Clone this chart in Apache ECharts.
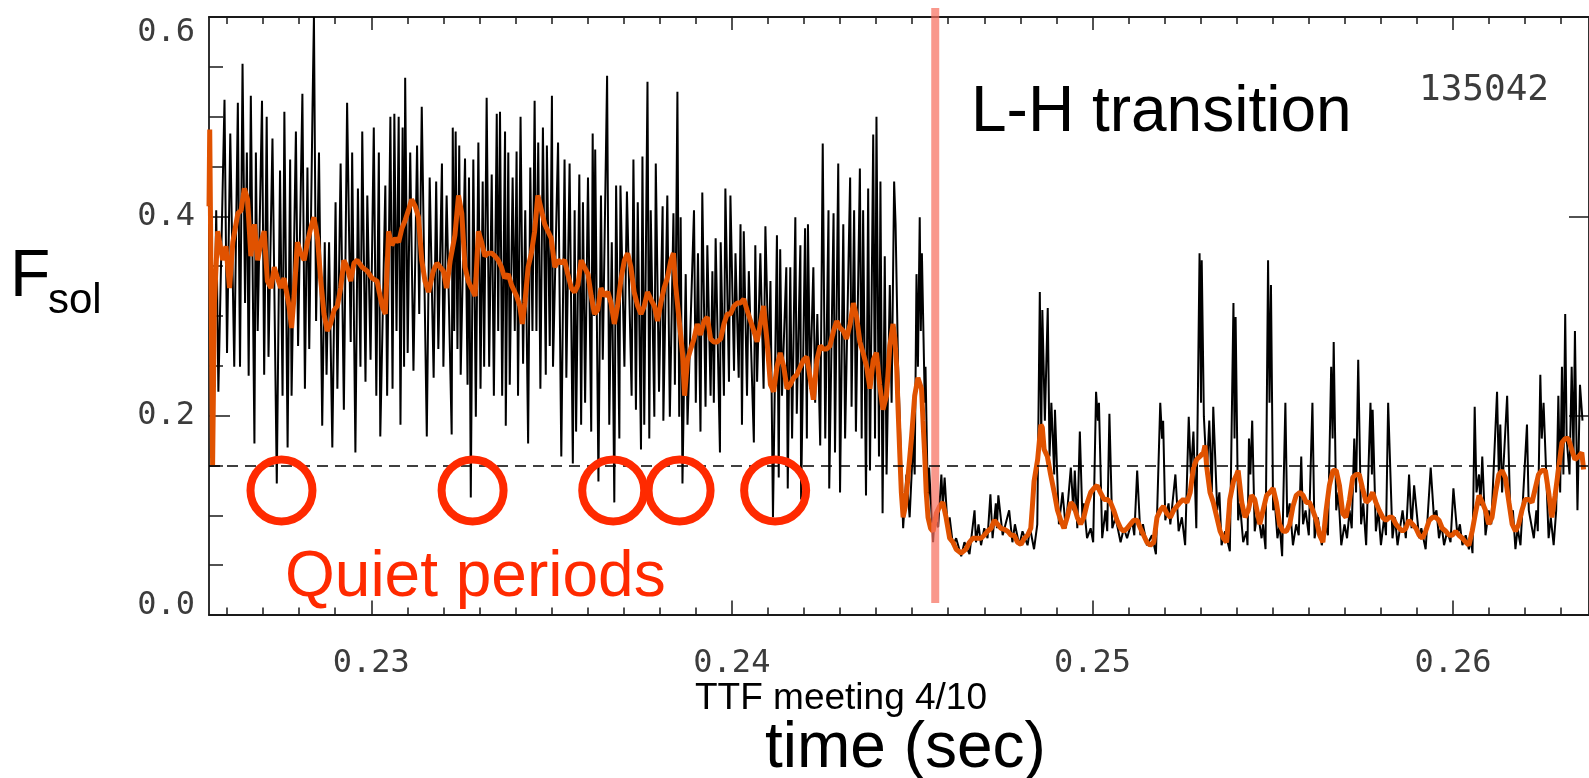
<!DOCTYPE html>
<html><head><meta charset="utf-8">
<script src="https://cdn.jsdelivr.net/npm/echarts@6/dist/echarts.min.js"></script>
<style>html,body{margin:0;padding:0;background:#fff}#c{width:1589px;height:778px}</style>
</head><body><div id="c"></div>
<script>
// ---------- data (time in s, F_sol) ----------
const blackTrace = [
[0.22551,0.392],[0.22561,0.159],[0.22570,0.406],[0.22576,0.224],[0.22593,0.517],[0.22600,0.263],[0.22609,0.483],[0.22620,0.249],[0.22630,0.514],[0.22636,0.249],[0.22643,0.553],[0.22650,0.313],[0.22655,0.464],[0.22660,0.240],[0.22666,0.521],[0.22676,0.172],[0.22680,0.464],[0.22685,0.285],[0.22697,0.516],[0.22703,0.241],[0.22710,0.500],[0.22715,0.259],[0.22726,0.478],[0.22738,0.132],[0.22747,0.446],[0.22754,0.220],[0.22759,0.505],[0.22768,0.168],[0.22775,0.457],[0.22779,0.220],[0.22791,0.485],[0.22797,0.270],[0.22809,0.523],[0.22816,0.227],[0.22823,0.449],[0.22828,0.267],[0.22837,0.507],[0.22841,0.600],[0.22847,0.295],[0.22855,0.464],[0.22864,0.190],[0.22871,0.374],[0.22876,0.241],[0.22883,0.374],[0.22892,0.168],[0.22901,0.414],[0.22906,0.227],[0.22915,0.453],[0.22924,0.206],[0.22933,0.514],[0.22943,0.274],[0.22947,0.464],[0.22956,0.163],[0.22963,0.428],[0.22970,0.249],[0.22975,0.485],[0.22984,0.234],[0.22989,0.421],[0.22998,0.256],[0.23007,0.489],[0.23014,0.220],[0.23021,0.464],[0.23025,0.179],[0.23039,0.431],[0.23044,0.220],[0.23053,0.500],[0.23059,0.227],[0.23064,0.503],[0.23070,0.285],[0.23076,0.500],[0.23081,0.191],[0.23087,0.489],[0.23091,0.249],[0.23094,0.539],[0.23101,0.263],[0.23108,0.464],[0.23117,0.245],[0.23127,0.471],[0.23133,0.302],[0.23140,0.510],[0.23154,0.179],[0.23162,0.439],[0.23173,0.238],[0.23180,0.435],[0.23186,0.267],[0.23196,0.453],[0.23200,0.249],[0.23209,0.421],[0.23223,0.181],[0.23226,0.489],[0.23230,0.285],[0.23234,0.485],[0.23239,0.267],[0.23244,0.471],[0.23248,0.241],[0.23260,0.458],[0.23267,0.231],[0.23271,0.439],[0.23276,0.118],[0.23283,0.457],[0.23290,0.199],[0.23297,0.474],[0.23303,0.227],[0.23309,0.435],[0.23313,0.249],[0.23320,0.519],[0.23327,0.249],[0.23334,0.442],[0.23340,0.220],[0.23348,0.503],[0.23352,0.285],[0.23357,0.505],[0.23363,0.220],[0.23371,0.485],[0.23373,0.190],[0.23380,0.464],[0.23384,0.231],[0.23392,0.439],[0.23398,0.285],[0.23403,0.465],[0.23407,0.220],[0.23414,0.500],[0.23421,0.252],[0.23427,0.406],[0.23435,0.172],[0.23441,0.449],[0.23447,0.285],[0.23453,0.516],[0.23458,0.285],[0.23463,0.474],[0.23469,0.227],[0.23476,0.489],[0.23484,0.241],[0.23487,0.471],[0.23495,0.270],[0.23501,0.521],
[0.23504,0.249],[0.23518,0.474],[0.23527,0.159],[0.23536,0.457],[0.23541,0.238],[0.23550,0.453],[0.23559,0.152],[0.23564,0.406],[0.23568,0.184],[0.23577,0.442],[0.23582,0.191],[0.23587,0.414],[0.23593,0.213],[0.23601,0.439],[0.23610,0.184],[0.23614,0.483],[0.23618,0.300],[0.23621,0.467],[0.23630,0.134],[0.23637,0.421],[0.23642,0.256],[0.23654,0.541],[0.23660,0.191],[0.23667,0.374],[0.23674,0.113],[0.23679,0.431],[0.23688,0.177],[0.23691,0.431],[0.23702,0.249],[0.23709,0.425],[0.23722,0.220],[0.23727,0.457],[0.23734,0.206],[0.23739,0.414],[0.23748,0.166],[0.23752,0.460],[0.23757,0.191],[0.23766,0.535],[0.23771,0.177],[0.23775,0.406],[0.23785,0.199],[0.23789,0.453],[0.23798,0.224],[0.23808,0.410],[0.23810,0.195],[0.23821,0.421],[0.23828,0.199],[0.23838,0.403],[0.23842,0.231],[0.23849,0.525],[0.23854,0.199],[0.23858,0.399],[0.23863,0.132],[0.23872,0.342],[0.23877,0.191],[0.23895,0.406],[0.23900,0.213],[0.23906,0.363],[0.23913,0.184],[0.23918,0.424],[0.23927,0.209],[0.23932,0.371],[0.23941,0.220],[0.23946,0.345],[0.23950,0.213],[0.23955,0.378],[0.23967,0.163],[0.23969,0.374],[0.23978,0.220],[0.23982,0.428],[0.23992,0.234],[0.23996,0.421],[0.24006,0.245],[0.24010,0.363],[0.24019,0.238],[0.24024,0.392],[0.24028,0.191],[0.24033,0.385],[0.24042,0.220],[0.24047,0.345],[0.24061,0.173],[0.24065,0.371],[0.24070,0.234],[0.24079,0.363],[0.24088,0.227],[0.24093,0.390],[0.24102,0.249],[0.24107,0.335],[0.24114,0.098],[0.24125,0.381],[0.24130,0.138],[0.24134,0.367],[0.24139,0.220],[0.24151,0.349],[0.24155,0.127],[0.24162,0.349],[0.24167,0.177],[0.24176,0.399],[0.24180,0.202],[0.24190,0.371],[0.24192,0.116],[0.24203,0.388],[0.24208,0.177],[0.24211,0.392],[0.24217,0.227],[0.24226,0.349],[0.24231,0.213],[0.24237,0.302],[0.24245,0.170],[0.24252,0.473],[0.24259,0.177],[0.24268,0.406],[0.24270,0.127],[0.24282,0.403],[0.24286,0.163],[0.24295,0.453],[0.24300,0.123],[0.24309,0.392],[0.24314,0.177],[0.24328,0.439],[0.24332,0.209],[0.24339,0.406],[0.24344,0.184],[0.24355,0.448],[0.24360,0.177],[0.24364,0.406],[0.24372,0.120],[0.24378,0.428],[0.24383,0.145],[0.24392,0.482],[0.24397,0.177],[0.24401,0.500],[0.24408,0.159],[0.24412,0.435],[0.24418,0.102],[0.24424,0.360],[0.24429,0.141],[0.24438,0.331],[0.24443,0.213],
[0.24450,0.435],[0.24454,0.392],[0.24461,0.249],[0.24475,0.087],[0.24484,0.141],[0.24493,0.098],[0.24503,0.177],[0.24507,0.141],[0.24512,0.342],[0.24516,0.249],[0.24521,0.399],[0.24524,0.285],[0.24527,0.363],[0.24535,0.213],[0.24537,0.249],[0.24544,0.105],[0.24547,0.148],[0.24558,0.073],[0.24562,0.098],[0.24572,0.088],[0.24581,0.141],[0.24585,0.109],[0.24590,0.138],[0.24599,0.084],[0.24604,0.098],[0.24613,0.070],[0.24622,0.077],[0.24636,0.059],[0.24645,0.073],[0.24659,0.061],[0.24673,0.105],[0.24677,0.073],[0.24684,0.091],[0.24691,0.070],[0.24700,0.087],[0.24709,0.077],[0.24717,0.121],[0.24723,0.077],[0.24732,0.112],[0.24735,0.087],[0.24739,0.120],[0.24751,0.080],[0.24769,0.105],[0.24778,0.073],[0.24785,0.091],[0.24797,0.070],[0.24806,0.084],[0.24820,0.070],[0.24827,0.087],[0.24838,0.066],[0.24847,0.091],[0.24854,0.324],[0.24858,0.177],[0.24861,0.306],[0.24868,0.195],[0.24876,0.308],[0.24881,0.159],[0.24886,0.213],[0.24894,0.141],[0.24896,0.206],[0.24907,0.091],[0.24917,0.123],[0.24926,0.087],[0.24940,0.148],[0.24947,0.105],[0.24951,0.145],[0.24958,0.087],[0.24965,0.184],[0.24972,0.098],[0.24976,0.112],[0.24985,0.077],[0.24995,0.087],[0.25002,0.073],[0.25010,0.224],[0.25015,0.195],[0.25018,0.213],[0.25027,0.077],[0.25036,0.105],[0.25041,0.084],[0.25047,0.202],[0.25055,0.087],[0.25064,0.098],[0.25078,0.073],[0.25087,0.087],[0.25096,0.077],[0.25110,0.095],[0.25116,0.080],[0.25124,0.145],[0.25133,0.080],[0.25140,0.091],[0.25151,0.070],[0.25165,0.080],[0.25176,0.061],[0.25188,0.213],[0.25193,0.177],[0.25196,0.195],[0.25202,0.095],[0.25211,0.112],[0.25216,0.091],[0.25230,0.141],[0.25239,0.084],[0.25248,0.098],[0.25257,0.070],[0.25267,0.199],[0.25273,0.141],[0.25280,0.184],[0.25288,0.087],[0.25297,0.363],[0.25301,0.213],[0.25303,0.356],[0.25309,0.199],[0.25317,0.141],[0.25324,0.195],[0.25331,0.123],[0.25335,0.209],[0.25346,0.105],[0.25352,0.123],[0.25358,0.070],[0.25368,0.084],[0.25381,0.064],[0.25391,0.313],[0.25394,0.177],[0.25397,0.299],
[0.25404,0.095],[0.25409,0.112],[0.25418,0.073],[0.25427,0.084],[0.25430,0.070],[0.25434,0.177],[0.25438,0.141],[0.25443,0.195],[0.25450,0.084],[0.25458,0.105],[0.25469,0.077],[0.25473,0.091],[0.25480,0.066],[0.25487,0.356],[0.25491,0.213],[0.25495,0.331],[0.25501,0.105],[0.25506,0.112],[0.25513,0.077],[0.25519,0.091],[0.25526,0.059],[0.25535,0.213],[0.25540,0.098],[0.25547,0.112],[0.25556,0.070],[0.25565,0.091],[0.25572,0.080],[0.25579,0.159],[0.25584,0.091],[0.25591,0.105],[0.25600,0.080],[0.25610,0.213],[0.25616,0.077],[0.25625,0.098],[0.25636,0.070],[0.25645,0.091],[0.25653,0.080],[0.25662,0.249],[0.25666,0.177],[0.25669,0.274],[0.25676,0.105],[0.25682,0.123],[0.25690,0.070],[0.25699,0.091],[0.25706,0.077],[0.25713,0.105],[0.25719,0.087],[0.25726,0.177],[0.25731,0.123],[0.25737,0.256],[0.25745,0.091],[0.25751,0.112],[0.25759,0.070],[0.25771,0.213],[0.25775,0.141],[0.25777,0.206],[0.25786,0.084],[0.25793,0.105],[0.25800,0.070],[0.25809,0.098],[0.25814,0.080],[0.25820,0.213],[0.25832,0.077],[0.25839,0.098],[0.25846,0.070],[0.25860,0.105],[0.25869,0.077],[0.25878,0.141],[0.25885,0.087],[0.25892,0.130],[0.25906,0.077],[0.25912,0.087],[0.25924,0.066],[0.25938,0.148],[0.25947,0.098],[0.25954,0.105],[0.25961,0.077],[0.25968,0.091],[0.25975,0.070],[0.25984,0.084],[0.25993,0.073],[0.26001,0.127],[0.26012,0.080],[0.26019,0.091],[0.26026,0.070],[0.26035,0.080],[0.26044,0.066],[0.26049,0.077],[0.26054,0.062],[0.26060,0.209],[0.26065,0.123],[0.26072,0.141],[0.26076,0.110],[0.26081,0.159],[0.26090,0.080],[0.26099,0.105],[0.26106,0.091],[0.26122,0.224],[0.26127,0.141],[0.26131,0.191],[0.26136,0.123],[0.26150,0.220],[0.26159,0.098],[0.26166,0.105],[0.26173,0.066],[0.26179,0.087],[0.26187,0.070],[0.26205,0.191],[0.26210,0.105],[0.26224,0.077],[0.26231,0.105],[0.26235,0.084],[0.26242,0.241],[0.26246,0.177],[0.26251,0.213],[0.26265,0.077],[0.26271,0.098],[0.26279,0.070],[0.26286,0.105],[0.26292,0.220],[0.26297,0.123],[0.26302,0.249],[0.26306,0.141],[0.26311,0.302],[0.26315,0.177],[0.26323,0.141],[0.26329,0.249],[0.26334,0.159],[0.26338,0.285],[0.26345,0.105],[0.26352,0.231],[0.26359,0.195]
];
const orangeTrace = [
[0.22550,0.410],[0.22552,0.487],[0.22556,0.320],[0.22560,0.150],[0.22565,0.313],[0.22574,0.385],[0.22588,0.356],[0.22597,0.370],[0.22607,0.328],[0.22616,0.374],[0.22630,0.403],[0.22639,0.406],[0.22648,0.428],[0.22657,0.417],[0.22666,0.360],[0.22676,0.392],[0.22685,0.356],[0.22694,0.374],[0.22703,0.385],[0.22712,0.335],[0.22722,0.328],[0.22731,0.349],[0.22740,0.338],[0.22749,0.328],[0.22758,0.338],[0.22772,0.310],[0.22779,0.288],[0.22786,0.320],[0.22795,0.374],[0.22804,0.363],[0.22814,0.356],[0.22823,0.374],[0.22832,0.388],[0.22841,0.399],[0.22851,0.378],[0.22860,0.335],[0.22869,0.302],[0.22878,0.285],[0.22887,0.292],[0.22897,0.306],[0.22906,0.310],[0.22915,0.328],[0.22924,0.356],[0.22933,0.349],[0.22943,0.335],[0.22952,0.353],[0.22961,0.356],[0.22975,0.349],[0.22989,0.345],[0.23002,0.338],[0.23016,0.335],[0.23030,0.310],[0.23039,0.302],[0.23048,0.385],[0.23057,0.371],[0.23067,0.378],[0.23076,0.374],[0.23085,0.388],[0.23094,0.396],[0.23103,0.406],[0.23112,0.417],[0.23122,0.410],[0.23131,0.399],[0.23140,0.356],[0.23149,0.335],[0.23159,0.324],[0.23172,0.345],[0.23182,0.353],[0.23191,0.349],[0.23200,0.345],[0.23209,0.328],[0.23219,0.356],[0.23232,0.381],[0.23242,0.421],[0.23251,0.403],[0.23260,0.349],[0.23269,0.335],[0.23278,0.328],[0.23288,0.320],[0.23297,0.385],[0.23306,0.374],[0.23315,0.360],[0.23324,0.363],[0.23334,0.363],[0.23343,0.360],[0.23352,0.356],[0.23361,0.349],[0.23370,0.338],[0.23380,0.342],[0.23389,0.331],[0.23403,0.320],[0.23412,0.310],[0.23419,0.292],[0.23426,0.313],[0.23435,0.349],[0.23444,0.363],[0.23453,0.385],[0.23462,0.421],[0.23472,0.406],[0.23481,0.392],[0.23490,0.385],[0.23499,0.378],
[0.23509,0.349],[0.23518,0.356],[0.23527,0.353],[0.23536,0.356],[0.23545,0.342],[0.23555,0.328],[0.23564,0.324],[0.23573,0.331],[0.23582,0.356],[0.23591,0.349],[0.23601,0.342],[0.23610,0.320],[0.23619,0.302],[0.23628,0.306],[0.23637,0.328],[0.23647,0.320],[0.23656,0.324],[0.23665,0.313],[0.23674,0.292],[0.23683,0.310],[0.23693,0.338],[0.23702,0.356],[0.23711,0.363],[0.23720,0.349],[0.23729,0.324],[0.23739,0.310],[0.23748,0.302],[0.23757,0.310],[0.23766,0.324],[0.23775,0.317],[0.23785,0.310],[0.23794,0.295],[0.23803,0.313],[0.23812,0.328],[0.23821,0.338],[0.23831,0.356],[0.23838,0.363],[0.23844,0.331],[0.23854,0.295],[0.23863,0.263],[0.23869,0.220],[0.23877,0.256],[0.23886,0.267],[0.23895,0.277],[0.23904,0.292],[0.23913,0.281],[0.23923,0.295],[0.23932,0.299],[0.23941,0.277],[0.23950,0.274],[0.23959,0.274],[0.23969,0.277],[0.23978,0.292],[0.23987,0.302],[0.23996,0.302],[0.24006,0.310],[0.24015,0.313],[0.24024,0.313],[0.24033,0.317],[0.24042,0.306],[0.24052,0.295],[0.24061,0.285],[0.24070,0.274],[0.24079,0.292],[0.24088,0.310],[0.24097,0.277],[0.24107,0.231],[0.24116,0.224],[0.24125,0.249],[0.24134,0.263],[0.24144,0.249],[0.24153,0.227],[0.24162,0.231],[0.24171,0.238],[0.24180,0.241],[0.24190,0.249],[0.24199,0.256],[0.24208,0.259],[0.24217,0.238],[0.24226,0.216],[0.24236,0.256],[0.24245,0.270],[0.24254,0.267],[0.24263,0.267],[0.24272,0.270],[0.24282,0.285],[0.24291,0.295],[0.24300,0.288],[0.24309,0.285],[0.24318,0.277],[0.24328,0.292],[0.24337,0.313],[0.24346,0.299],[0.24355,0.274],[0.24364,0.263],[0.24374,0.249],[0.24383,0.227],[0.24392,0.256],[0.24401,0.263],[0.24410,0.231],[0.24419,0.206],[0.24429,0.220],[0.24438,0.270],[0.24447,0.292],
[0.24452,0.277],[0.24457,0.249],[0.24461,0.206],[0.24466,0.159],[0.24470,0.123],[0.24475,0.098],[0.24481,0.109],[0.24489,0.141],[0.24498,0.177],[0.24507,0.220],[0.24516,0.238],[0.24526,0.227],[0.24530,0.195],[0.24535,0.159],[0.24539,0.123],[0.24544,0.098],[0.24551,0.087],[0.24558,0.084],[0.24567,0.102],[0.24576,0.109],[0.24585,0.113],[0.24594,0.098],[0.24604,0.077],[0.24613,0.073],[0.24622,0.066],[0.24636,0.062],[0.24649,0.066],[0.24659,0.073],[0.24668,0.077],[0.24682,0.077],[0.24691,0.077],[0.24700,0.080],[0.24709,0.084],[0.24719,0.087],[0.24728,0.095],[0.24737,0.091],[0.24746,0.087],[0.24756,0.086],[0.24765,0.084],[0.24774,0.080],[0.24783,0.080],[0.24792,0.073],[0.24802,0.071],[0.24811,0.077],[0.24820,0.080],[0.24829,0.087],[0.24834,0.112],[0.24838,0.134],[0.24848,0.156],[0.24857,0.191],[0.24861,0.188],[0.24866,0.166],[0.24875,0.159],[0.24884,0.141],[0.24894,0.123],[0.24903,0.105],[0.24912,0.095],[0.24921,0.087],[0.24930,0.098],[0.24940,0.113],[0.24949,0.109],[0.24958,0.098],[0.24967,0.091],[0.24976,0.098],[0.24986,0.113],[0.24995,0.123],[0.25004,0.127],[0.25013,0.130],[0.25022,0.123],[0.25032,0.116],[0.25041,0.116],[0.25050,0.113],[0.25059,0.105],[0.25068,0.095],[0.25078,0.087],[0.25087,0.084],[0.25096,0.087],[0.25105,0.091],[0.25114,0.095],[0.25124,0.095],[0.25133,0.087],[0.25142,0.080],[0.25151,0.073],[0.25160,0.070],[0.25170,0.073],[0.25179,0.098],[0.25188,0.105],[0.25197,0.109],[0.25206,0.102],[0.25216,0.098],[0.25225,0.105],[0.25234,0.109],[0.25243,0.113],[0.25252,0.116],[0.25262,0.113],[0.25271,0.123],[0.25280,0.148],[0.25289,0.156],[0.25298,0.159],[0.25308,0.163],[0.25312,0.170],[0.25317,0.148],[0.25326,0.123],[0.25335,0.113],[0.25345,0.098],[0.25354,0.084],[0.25363,0.077],[0.25372,0.073],[0.25381,0.116],[0.25391,0.134],[0.25400,0.141],
[0.25404,0.145],[0.25414,0.113],[0.25423,0.098],[0.25432,0.105],[0.25441,0.120],[0.25450,0.116],[0.25460,0.098],[0.25464,0.091],[0.25473,0.105],[0.25483,0.120],[0.25492,0.123],[0.25501,0.127],[0.25510,0.113],[0.25519,0.091],[0.25529,0.084],[0.25538,0.084],[0.25547,0.091],[0.25556,0.109],[0.25565,0.120],[0.25575,0.123],[0.25584,0.120],[0.25593,0.113],[0.25602,0.113],[0.25611,0.105],[0.25621,0.095],[0.25630,0.080],[0.25639,0.073],[0.25648,0.105],[0.25657,0.130],[0.25667,0.145],[0.25676,0.145],[0.25685,0.130],[0.25694,0.102],[0.25703,0.098],[0.25713,0.116],[0.25722,0.138],[0.25731,0.141],[0.25740,0.141],[0.25749,0.127],[0.25759,0.113],[0.25768,0.116],[0.25777,0.123],[0.25786,0.113],[0.25795,0.105],[0.25805,0.098],[0.25814,0.095],[0.25823,0.098],[0.25832,0.098],[0.25842,0.091],[0.25851,0.087],[0.25860,0.084],[0.25869,0.087],[0.25878,0.095],[0.25888,0.091],[0.25897,0.087],[0.25906,0.080],[0.25915,0.077],[0.25924,0.084],[0.25934,0.095],[0.25943,0.098],[0.25952,0.098],[0.25961,0.095],[0.25970,0.087],[0.25980,0.084],[0.25989,0.080],[0.25998,0.080],[0.26007,0.084],[0.26016,0.080],[0.26026,0.077],[0.26035,0.073],[0.26044,0.070],[0.26053,0.084],[0.26062,0.102],[0.26072,0.120],[0.26081,0.113],[0.26090,0.105],[0.26099,0.091],[0.26108,0.098],[0.26118,0.123],[0.26127,0.141],[0.26136,0.145],[0.26145,0.138],[0.26155,0.113],[0.26164,0.091],[0.26173,0.084],[0.26182,0.091],[0.26191,0.105],[0.26200,0.116],[0.26210,0.116],[0.26219,0.113],[0.26228,0.127],[0.26237,0.141],[0.26246,0.145],[0.26256,0.145],[0.26265,0.123],[0.26274,0.098],[0.26283,0.120],[0.26293,0.148],[0.26302,0.173],[0.26311,0.177],[0.26320,0.177],[0.26329,0.166],[0.26338,0.156],[0.26348,0.159],[0.26357,0.163],[0.26362,0.146]
];
const quietTimes  = [0.22751, 0.23281, 0.23671, 0.23855, 0.24120];
const quietLevel  = 0.125;
const thresholdLevel = 0.15;
const transitionTime = 0.24564;
const transitionSpan = [0.012, 0.609];
const xRange = [0.2255, 0.26377];
const yRange = [0, 0.6];
const xLabelValues = [0.23, 0.24, 0.25, 0.26];
const xMinorValues = [0.226,0.227,0.228,0.229,0.230,0.231,0.232,0.233,0.234,0.235,0.236,0.237,0.238,0.239,0.240,0.241,0.242,0.243,0.244,0.245,0.246,0.247,0.248,0.249,0.250,0.251,0.252,0.253,0.254,0.255,0.256,0.257,0.258,0.259,0.260,0.261,0.262,0.263];
const shotNumber = '135042';

// ---------- chart ----------
const AX = '#1a1a1a';
const tickFont = {fontFamily: '"DejaVu Sans Mono", monospace', fontSize: 32, fontWeight: 'normal', color: '#3c3c3c'};
const gridBox = {left: 209, top: 17, right: -6, bottom: 163, containLabel: false};
const chart = echarts.init(document.getElementById('c'), null, {renderer: 'canvas'});
chart.setOption({
  animation: false,
  backgroundColor: '#fff',
  grid: [Object.assign({}, gridBox), Object.assign({}, gridBox)],
  xAxis: [
    {type: 'value', gridIndex: 0, position: 'bottom', min: xRange[0], max: xRange[1],
     axisLine: {show: true, onZero: false, lineStyle: {color: AX, width: 1.8}},
     axisTick: {show: true, inside: true, length: 7.5, customValues: xMinorValues, lineStyle: {color: AX, width: 1.5}},
     axisLabel: {show: false}, splitLine: {show: false}},
    {type: 'value', gridIndex: 0, position: 'top', min: xRange[0], max: xRange[1],
     axisLine: {show: true, onZero: false, lineStyle: {color: AX, width: 1.8}},
     axisTick: {show: true, inside: true, length: 7, customValues: xMinorValues, lineStyle: {color: AX, width: 1.5}},
     axisLabel: {show: false}, splitLine: {show: false}},
    {type: 'value', gridIndex: 1, position: 'bottom', min: xRange[0], max: xRange[1],
     axisLine: {show: false, onZero: false},
     axisTick: {show: true, inside: true, length: 14.5, customValues: xLabelValues, lineStyle: {color: AX, width: 1.5}},
     axisLabel: Object.assign({show: true, customValues: xLabelValues, margin: 33, formatter: v => v.toFixed(2)}, tickFont),
     splitLine: {show: false}},
    {type: 'value', gridIndex: 1, position: 'top', min: xRange[0], max: xRange[1],
     axisLine: {show: false, onZero: false},
     axisTick: {show: true, inside: true, length: 13, customValues: xLabelValues, lineStyle: {color: AX, width: 1.5}},
     axisLabel: {show: false}, splitLine: {show: false}}
  ],
  yAxis: [
    {type: 'value', gridIndex: 0, position: 'left', min: yRange[0], max: yRange[1], interval: 0.2,
     axisLine: {show: true, onZero: false, lineStyle: {color: AX, width: 1.8}},
     axisTick: {show: true, inside: true, length: 21, lineStyle: {color: AX, width: 1.5}},
     minorTick: {show: true, splitNumber: 4, length: 14, lineStyle: {color: AX, width: 1.5}},
     axisLabel: Object.assign({show: true, margin: 14,
       formatter: v => (v === 0 ? '{lo|' + v.toFixed(1) + '}' : v.toFixed(1)),
       rich: {lo: {fontFamily: '"DejaVu Sans Mono", monospace', fontSize: 32, color: '#3c3c3c', lineHeight: 18}},
       verticalAlignMinLabel: 'bottom', verticalAlignMaxLabel: 'top'}, tickFont),
     splitLine: {show: false}},
    {type: 'value', gridIndex: 0, position: 'right', min: yRange[0], max: yRange[1], interval: 0.2,
     axisLine: {show: true, onZero: false, lineStyle: {color: AX, width: 1.8}},
     axisTick: {show: true, inside: true, length: 20, lineStyle: {color: AX, width: 1.5}},
     axisLabel: {show: false}, splitLine: {show: false}},
    {type: 'value', gridIndex: 1, min: yRange[0], max: yRange[1], show: false}
  ],
  series: [
    {type: 'line', xAxisIndex: 0, yAxisIndex: 0, data: blackTrace, showSymbol: false, symbol: 'none',
     lineStyle: {color: '#000', width: 2}, z: 2, silent: true,
     markLine: {silent: true, symbol: 'none', label: {show: false},
       lineStyle: {color: '#000', width: 1.5, type: [11, 7]},
       data: [{yAxis: thresholdLevel}]}},
    {type: 'line', xAxisIndex: 0, yAxisIndex: 0, data: orangeTrace, showSymbol: false, symbol: 'none',
     lineStyle: {color: '#E05200', width: 5}, z: 3, silent: true},
    {type: 'line', xAxisIndex: 0, yAxisIndex: 0, clip: false, showSymbol: false, symbol: 'none',
     data: [[transitionTime, transitionSpan[0]], [transitionTime, transitionSpan[1]]],
     lineStyle: {color: 'rgba(246,112,96,0.72)', width: 8, cap: 'butt'}, z: 4, silent: true},
    {type: 'scatter', xAxisIndex: 0, yAxisIndex: 0, clip: false,
     data: quietTimes.map(t => [t, quietLevel]), symbol: 'circle', symbolSize: 62,
     itemStyle: {color: 'rgba(0,0,0,0)', borderColor: '#FF2A00', borderWidth: 8, opacity: 1}, z: 5, silent: true}
  ],
  graphic: [
    {type: 'text', x: 10, y: 278, style: {text: 'F', font: '66px "Liberation Sans", Arial, sans-serif', fill: '#000', align: 'left', verticalAlign: 'middle'}},
    {type: 'text', x: 48, y: 301, style: {text: 'sol', font: '42px "Liberation Sans", Arial, sans-serif', fill: '#000', align: 'left', verticalAlign: 'middle'}},
    {type: 'text', x: 971, y: 113, style: {text: 'L-H transition', font: '64px "Liberation Sans", Arial, sans-serif', fill: '#000', align: 'left', verticalAlign: 'middle'}},
    {type: 'text', x: 1484, y: 91, style: {text: shotNumber, font: '36px "DejaVu Sans Mono", monospace', fill: '#3c3c3c', align: 'center', verticalAlign: 'middle'}},
    {type: 'text', x: 285, y: 578, style: {text: 'Quiet periods', font: '64px "Liberation Sans", Arial, sans-serif', fill: '#FF2A00', align: 'left', verticalAlign: 'middle'}},
    {type: 'text', x: 695, y: 699, style: {text: 'TTF meeting 4/10', font: '37px "Liberation Sans", Arial, sans-serif', fill: '#000', align: 'left', verticalAlign: 'middle'}},
    {type: 'text', x: 765, y: 749, style: {text: 'time (sec)', font: '64px "Liberation Sans", Arial, sans-serif', fill: '#000', align: 'left', verticalAlign: 'middle'}}
  ]
});
</script></body></html>
